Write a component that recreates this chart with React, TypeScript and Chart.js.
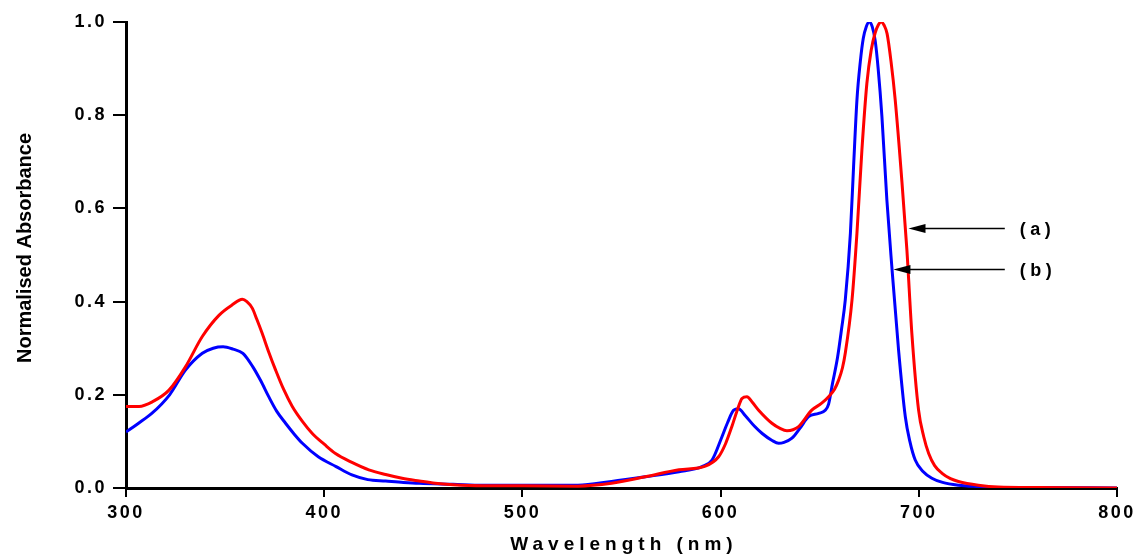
import React, { useEffect, useRef } from 'react';
import { Chart, registerables } from 'chart.js';

Chart.register(...registerables);

// Series (a) — red
const WAVELENGTH_A = [
  300, 306.6, 313.3, 321.7, 330, 338.5, 347, 353.6, 358.7, 361, 363.7, 366, 368.7, 372, 375.5, 379.5,
  383.9, 389, 394, 400, 405.7, 414, 422.5, 431, 439.3, 448, 456, 465, 480, 500, 528, 545, 562, 579,
  592.3, 599, 602.5, 605.7, 608.5, 610.8, 613.3, 616, 619.2, 625.9, 630, 633.5, 636.5, 639.4, 646, 651,
  654.5, 657.5, 659.6, 661.5, 662.9, 666.3, 668.8, 671.3, 673.8, 676, 678, 679.5, 681, 682.5, 684, 686, 688.1,
  691.5, 694, 696.5, 699.9, 702.5, 705, 708, 711.6, 716, 720, 730, 740, 760, 800,
];
const ABSORBANCE_A = [
  0.175, 0.175, 0.185, 0.21, 0.26, 0.325, 0.371, 0.393, 0.405, 0.4, 0.386, 0.362, 0.332, 0.292, 0.253, 0.212,
  0.175, 0.143, 0.117, 0.094, 0.074, 0.055, 0.039, 0.029, 0.021, 0.015, 0.01, 0.007, 0.005, 0.005, 0.004, 0.01, 0.024, 0.039,
  0.047, 0.067, 0.095, 0.132, 0.168, 0.192, 0.196, 0.184, 0.167, 0.139, 0.128, 0.123, 0.125, 0.132, 0.167, 0.182,
  0.196, 0.212, 0.232, 0.258, 0.289, 0.403, 0.547, 0.725, 0.868, 0.94, 0.977, 0.993, 1.0, 0.993, 0.975, 0.915, 0.833,
  0.657, 0.511, 0.332, 0.167, 0.11, 0.074, 0.048, 0.032, 0.02, 0.014, 0.006, 0.002, 0.001, 0.0,
];

// Series (b) — blue
const WAVELENGTH_B = [
  300, 306, 313, 322, 330, 338.5, 344, 349, 354, 359, 364, 368, 372, 376, 380.5, 385, 389, 397, 406,
  414, 422, 431, 440, 448, 465, 480, 500, 528, 545, 562, 579, 590.6, 595.7, 600.7, 603.5, 606.6, 609,
  612.5, 617, 621, 626, 629.3, 632, 636, 640, 644.4, 649.5, 652.8, 654.5, 656.5, 659, 661, 662.9, 665.5,
  667.1, 668.8, 670.5, 672, 673.5, 675, 676.5, 678, 679.5, 681.4, 683.9, 686.4, 689.8, 693.2, 695.5, 698.2, 702,
  706.6, 712, 720, 730, 740, 760, 800,
];
const ABSORBANCE_B = [
  0.12, 0.138, 0.16, 0.2, 0.253, 0.289, 0.3, 0.303, 0.298, 0.289, 0.26, 0.23, 0.196, 0.165, 0.139, 0.115, 0.096, 0.067, 0.046,
  0.028, 0.018, 0.015, 0.012, 0.01, 0.008, 0.006, 0.006, 0.006, 0.014, 0.024, 0.035, 0.046, 0.06, 0.11, 0.14, 0.167, 0.17,
  0.155, 0.133, 0.117, 0.102, 0.096, 0.098, 0.107, 0.128, 0.153, 0.16, 0.167, 0.18, 0.225, 0.28, 0.34, 0.403, 0.547,
  0.69, 0.833, 0.915, 0.965, 0.99, 1.0, 0.99, 0.96, 0.9, 0.797, 0.618, 0.475, 0.296, 0.153, 0.1, 0.06, 0.036,
  0.021, 0.012, 0.006, 0.003, 0.001, 0.001, 0.0,
];

const X_TICKS = [300, 400, 500, 600, 700, 800];
const Y_TICKS = [0, 0.2, 0.4, 0.6, 0.8, 1.0];
const X_TITLE = 'Wavelength (nm)';
const Y_TITLE = 'Normalised Absorbance';

// Annotations (data coordinates)
const NOTE_LABELS = ['(a)', '(b)'];
const NOTE_Y = [0.558, 0.47];
const NOTE_TIP_X = [694.8, 687.2];
const NOTE_TAIL_X = 743.4;
const NOTE_LABEL_X = 751;

const FONT = '"Liberation Sans", Arial, Helvetica, sans-serif';

const decorPlugin = {
  id: 'decor',
  beforeDraw(chart: any) {
    chart.ctx.letterSpacing = '2.5px';
  },
  afterDraw(chart: any) {
    const ctx = chart.ctx as CanvasRenderingContext2D & { letterSpacing: string };
    const xs = chart.scales.x;
    const ys = chart.scales.y;
    ctx.save();
    ctx.strokeStyle = '#000';
    ctx.fillStyle = '#000';
    ctx.lineWidth = 1.3;
    for (let i = 0; i < NOTE_LABELS.length; i++) {
      const py = Math.round(ys.getPixelForValue(NOTE_Y[i])) + 0.5;
      const tip = xs.getPixelForValue(NOTE_TIP_X[i]);
      const tail = xs.getPixelForValue(NOTE_TAIL_X);
      ctx.beginPath();
      ctx.moveTo(tail, py);
      ctx.lineTo(tip + 12, py);
      ctx.stroke();
      ctx.beginPath();
      ctx.moveTo(tip, py);
      ctx.lineTo(tip + 17, py - 4.5);
      ctx.lineTo(tip + 17, py + 4.5);
      ctx.closePath();
      ctx.fill();
      ctx.letterSpacing = '4.5px';
      ctx.font = `bold 18px ${FONT}`;
      ctx.textAlign = 'left';
      ctx.textBaseline = 'middle';
      ctx.fillText(NOTE_LABELS[i], xs.getPixelForValue(NOTE_LABEL_X), py + 2);
    }
    // X title
    ctx.letterSpacing = '5px';
    ctx.font = `bold 19px ${FONT}`;
    ctx.textAlign = 'center';
    ctx.textBaseline = 'middle';
    const ca = chart.chartArea;
    ctx.fillText(X_TITLE, (ca.left + ca.right) / 2 + 2.5, 545);
    // Y title
    ctx.letterSpacing = '0px';
    ctx.font = `bold 20px ${FONT}`;
    ctx.translate(25, 248);
    ctx.rotate(-Math.PI / 2);
    ctx.fillText(Y_TITLE, 0, 0);
    ctx.restore();
  },
};

export default function App() {
  const canvasRef = useRef<HTMLCanvasElement | null>(null);

  useEffect(() => {
    const canvas = canvasRef.current;
    if (!canvas) return;
    const dataA = WAVELENGTH_A.map((x, i) => ({ x, y: ABSORBANCE_A[i] }));
    const dataB = WAVELENGTH_B.map((x, i) => ({ x, y: ABSORBANCE_B[i] }));
    const tickFont = { family: FONT, size: 18, weight: 'bold' as const };
    const chart = new Chart(canvas, {
      type: 'line',
      data: {
        datasets: [
          {
            label: '(a)',
            data: dataA,
            borderColor: '#ff0000',
            borderWidth: 3,
            pointRadius: 0,
            fill: false,
            cubicInterpolationMode: 'monotone',
          },
          {
            label: '(b)',
            data: dataB,
            borderColor: '#0000ff',
            borderWidth: 3,
            pointRadius: 0,
            fill: false,
            cubicInterpolationMode: 'monotone',
          },
        ],
      },
      options: {
        animation: false,
        responsive: false,
        devicePixelRatio: 1,
        layout: { padding: { top: 22, right: 18, left: 0, bottom: 0 } },
        plugins: {
          legend: { display: false },
          tooltip: { enabled: false },
          title: { display: false },
        },
        scales: {
          x: {
            type: 'linear',
            min: 300,
            max: 800,
            afterBuildTicks: (s: any) => {
              s.ticks = X_TICKS.map((v) => ({ value: v }));
            },
            afterFit: (s: any) => {
              s.height = 68;
            },
            ticks: {
              font: tickFont,
              color: '#000',
              padding: 5,
              maxRotation: 0,
              autoSkip: false,
              callback: (v: any) => String(v),
            },
            grid: {
              drawOnChartArea: false,
              drawTicks: true,
              tickLength: 9,
              color: '#000',
              lineWidth: 2,
            },
            border: { display: true, color: '#000', width: 3 },
          },
          y: {
            type: 'linear',
            min: 0,
            max: 1,
            afterBuildTicks: (s: any) => {
              s.ticks = Y_TICKS.map((v) => ({ value: v }));
            },
            afterFit: (s: any) => {
              s.width = 126;
            },
            ticks: {
              font: tickFont,
              color: '#000',
              padding: 6,
              callback: (v: any) => Number(v).toFixed(1),
            },
            grid: {
              drawOnChartArea: false,
              drawTicks: true,
              tickLength: 13,
              color: '#000',
              lineWidth: 2,
            },
            border: { display: true, color: '#000', width: 3 },
          },
        },
      },
      plugins: [decorPlugin],
    });
    return () => chart.destroy();
  }, []);

  return (
    <div style={{ position: 'fixed', left: 0, top: 0, width: 1137, height: 556, background: '#fff' }}>
      <canvas ref={canvasRef} width={1137} height={556} style={{ width: 1137, height: 556, display: 'block' }} />
    </div>
  );
}
